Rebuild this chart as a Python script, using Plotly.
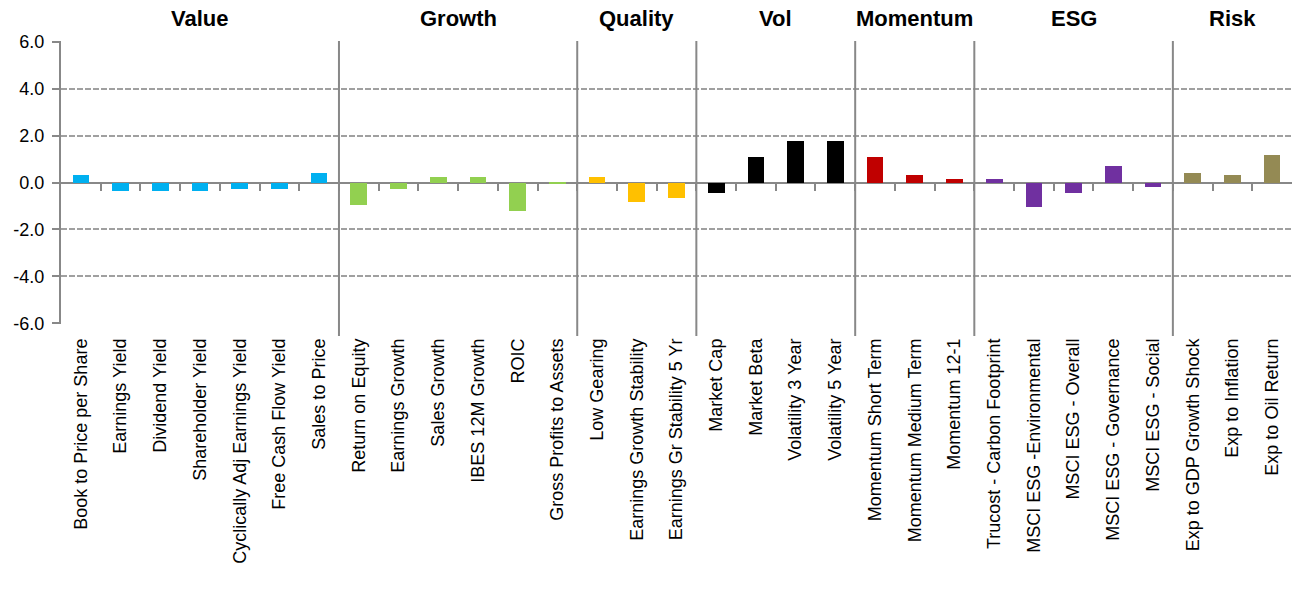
import plotly.graph_objects as go

groups = ["Value", "Growth", "Quality", "Vol", "Momentum", "ESG", "Risk"]
group_colors = ["#00B0F0", "#92D050", "#FFC000", "#000000", "#C00000", "#7030A0", "#948A54"]

value_labels = ["Book to Price per Share", "Earnings Yield", "Dividend Yield", "Shareholder Yield",
                "Cyclically Adj Earnings Yield", "Free Cash Flow Yield", "Sales to Price"]
value_vals = [0.34, -0.35, -0.35, -0.35, -0.27, -0.27, 0.42]

growth_labels = ["Return on Equity", "Earnings Growth", "Sales Growth", "IBES 12M Growth", "ROIC",
                 "Gross Profits to Assets"]
growth_vals = [-0.94, -0.27, 0.24, 0.23, -1.20, -0.08]

quality_labels = ["Low Gearing", "Earnings Growth Stability", "Earnings Gr Stability 5 Yr"]
quality_vals = [0.23, -0.82, -0.65]

vol_labels = ["Market Cap", "Market Beta", "Volatility 3 Year", "Volatility 5 Year"]
vol_vals = [-0.44, 1.09, 1.77, 1.77]

momentum_labels = ["Momentum Short Term", "Momentum Medium Term", "Momentum 12-1"]
momentum_vals = [1.09, 0.33, 0.16]

esg_labels = ["Trucost - Carbon Footprint", "MSCI ESG -Environmental", "MSCI ESG - Overall",
              "MSCI ESG - Governance", "MSCI ESG - Social"]
esg_vals = [0.16, -1.03, -0.44, 0.71, -0.18]

risk_labels = ["Exp to GDP Growth Shock", "Exp to Inflation", "Exp to Oil Return"]
risk_vals = [0.41, 0.33, 1.17]

y_ticks = [-6, -4, -2, 0, 2, 4, 6]
y_tick_text = ["-6.0", "-4.0", "-2.0", "0.0", "2.0", "4.0", "6.0"]

group_labels = [value_labels, growth_labels, quality_labels, vol_labels,
                momentum_labels, esg_labels, risk_labels]
group_vals = [value_vals, growth_vals, quality_vals, vol_vals,
              momentum_vals, esg_vals, risk_vals]

GRID = "#A0A0A0"
AXIS = "#888888"
FONT = "Liberation Sans, Arial, sans-serif"

fig = go.Figure()
all_labels = []
start = 0
group_bounds = []
for name, color, labs, vals in zip(groups, group_colors, group_labels, group_vals):
    xs = list(range(start, start + len(labs)))
    fig.add_trace(go.Bar(x=xs, y=vals, marker=dict(color=color, line=dict(width=0)),
                         width=0.42, name=name, showlegend=False))
    all_labels += labs
    group_bounds.append((start, start + len(labs)))
    start += len(labs)

n = len(all_labels)

# group titles and separators
for (a, b), name in zip(group_bounds, groups):
    fig.add_annotation(x=(a + b - 1) / 2, y=1.0, xref="x", yref="paper", yanchor="middle",
                       yshift=23, text="<b>%s</b>" % name, showarrow=False, borderpad=0,
                       font=dict(family=FONT, size=22, color="#000000"))
for (a, b) in group_bounds[1:]:
    fig.add_shape(type="line", xref="x", yref="paper", x0=a - 0.5, x1=a - 0.5,
                  y0=-0.042, y1=1.0, line=dict(color=AXIS, width=2), layer="above")

# minor tick marks on the zero line via overlay axis
fig.update_layout(
    xaxis2=dict(overlaying="x", anchor="free", position=0.5, range=[-0.5, n - 0.5],
                tickvals=[i + 0.5 for i in range(n - 1)], ticks="outside", ticklen=7,
                tickwidth=2, tickcolor=AXIS, showticklabels=False, showgrid=False,
                zeroline=False, showline=False, side="bottom"),
)
fig.add_trace(go.Scatter(x=[0], y=[0], xaxis="x2", mode="markers",
                         marker=dict(opacity=0), showlegend=False, hoverinfo="skip"))

fig.update_layout(
    width=1292, height=604,
    margin=dict(l=61, r=0, t=41, b=280),
    plot_bgcolor="white", paper_bgcolor="white",
    bargap=0,
    font=dict(family=FONT, color="#000000"),
    xaxis=dict(range=[-0.5, n - 0.5], tickvals=list(range(n)), ticktext=all_labels,
               tickangle=-90, ticks="", showgrid=False, zeroline=False, showline=False,
               ticklabelstandoff=10, tickfont=dict(family=FONT, size=18, color="#000000")),
    yaxis=dict(range=[-6.03, 6.03], tickvals=y_ticks, ticktext=y_tick_text, showgrid=True,
               gridcolor=GRID, gridwidth=2, griddash="6px,2px",
               zeroline=True, zerolinecolor=AXIS, zerolinewidth=2,
               showline=True, linecolor=AXIS, linewidth=2,
               ticks="outside", ticklen=7, tickwidth=2, tickcolor=AXIS,
               ticklabelstandoff=4,
               tickfont=dict(family=FONT, size=18, color="#000000")),
)

fig.write_html("out.html", config={"displayModeBar": False},
               post_script="document.body.style.margin='0px';document.body.style.overflow='hidden';")
